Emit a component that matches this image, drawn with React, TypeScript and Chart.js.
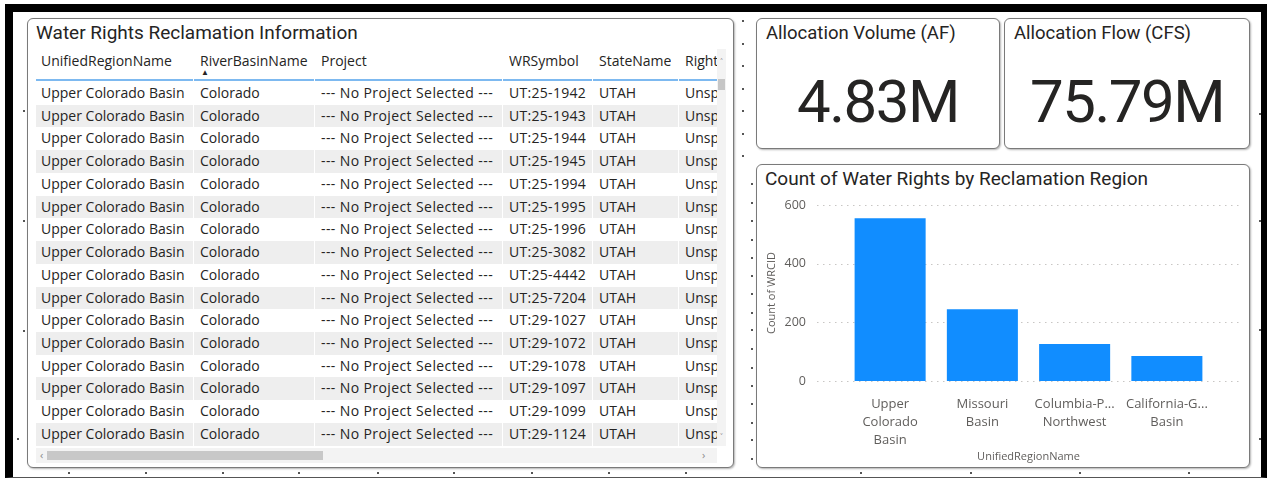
import React, { useEffect, useRef } from "react";
import { Chart, registerables } from "chart.js";

Chart.register(...registerables);

// ---------- Table data ----------
const tableHeaders = ["UnifiedRegionName", "RiverBasinName", "Project", "WRSymbol", "StateName", "Right"];
const regionNames = [
  "Upper Colorado Basin", "Upper Colorado Basin", "Upper Colorado Basin", "Upper Colorado Basin",
  "Upper Colorado Basin", "Upper Colorado Basin", "Upper Colorado Basin", "Upper Colorado Basin",
  "Upper Colorado Basin", "Upper Colorado Basin", "Upper Colorado Basin", "Upper Colorado Basin",
  "Upper Colorado Basin", "Upper Colorado Basin", "Upper Colorado Basin", "Upper Colorado Basin",
];
const riverBasins = [
  "Colorado", "Colorado", "Colorado", "Colorado", "Colorado", "Colorado", "Colorado", "Colorado",
  "Colorado", "Colorado", "Colorado", "Colorado", "Colorado", "Colorado", "Colorado", "Colorado",
];
const projects = [
  "--- No Project Selected ---", "--- No Project Selected ---", "--- No Project Selected ---", "--- No Project Selected ---",
  "--- No Project Selected ---", "--- No Project Selected ---", "--- No Project Selected ---", "--- No Project Selected ---",
  "--- No Project Selected ---", "--- No Project Selected ---", "--- No Project Selected ---", "--- No Project Selected ---",
  "--- No Project Selected ---", "--- No Project Selected ---", "--- No Project Selected ---", "--- No Project Selected ---",
];
const wrSymbols = [
  "UT:25-1942", "UT:25-1943", "UT:25-1944", "UT:25-1945", "UT:25-1994", "UT:25-1995", "UT:25-1996", "UT:25-3082",
  "UT:25-4442", "UT:25-7204", "UT:29-1027", "UT:29-1072", "UT:29-1078", "UT:29-1097", "UT:29-1099", "UT:29-1124",
];
const stateNames = [
  "UTAH", "UTAH", "UTAH", "UTAH", "UTAH", "UTAH", "UTAH", "UTAH",
  "UTAH", "UTAH", "UTAH", "UTAH", "UTAH", "UTAH", "UTAH", "UTAH",
];
const rightTypes = [
  "Unsp", "Unsp", "Unsp", "Unsp", "Unsp", "Unsp", "Unsp", "Unsp",
  "Unsp", "Unsp", "Unsp", "Unsp", "Unsp", "Unsp", "Unsp", "Unsp",
];

// ---------- KPI data ----------
const kpiTitles = ["Allocation Volume (AF)", "Allocation Flow (CFS)"];
const kpiValues = ["4.83M", "75.79M"];

// ---------- Chart data ----------
const chartTitle = "Count of Water Rights by Reclamation Region";
const categories = [
  ["Upper", "Colorado", "Basin"],
  ["Missouri", "Basin"],
  ["Columbia-P...", "Northwest"],
  ["California-G...", "Basin"],
];
const counts = [555, 245, 126, 85];
const yTickValues = [0, 200, 400, 600];
const xAxisTitle = "UnifiedRegionName";
const yAxisTitle = "Count of WRCID";

const TEXT = "#252423";
const SUB = "#605e5c";
const BODY_FONT = "'Open Sans', 'Noto Sans', sans-serif";
const TITLE_FONT = "Roboto, 'Noto Sans', sans-serif";

const colLefts = [41, 200, 321, 509, 599, 685];
const colDividers = [193, 314, 502, 592, 678];
const colSpacing = [0, 0, 0.4, 0.3, 0, 0];

const dottedGrid = {
  id: "dottedGrid",
  beforeDatasetsDraw(chart: any) {
    const { ctx, chartArea, scales } = chart;
    const y = scales.y;
    ctx.save();
    ctx.strokeStyle = "#c8c6c4";
    ctx.lineWidth = 1;
    ctx.setLineDash([1.5, 4.5]);
    y.ticks.forEach((t: any) => {
      const py = Math.round(y.getPixelForValue(t.value)) + 0.5;
      ctx.beginPath();
      ctx.moveTo(chartArea.left - 27, py);
      ctx.lineTo(chartArea.right + 30, py);
      ctx.stroke();
    });
    ctx.restore();
  },
};

function BarChart() {
  const ref = useRef<HTMLCanvasElement | null>(null);
  useEffect(() => {
    if (!ref.current) return;
    const chart = new Chart(ref.current, {
      type: "bar",
      data: {
        labels: categories as any,
        datasets: [
          {
            data: counts,
            backgroundColor: "#118DFF",
            borderWidth: 0,
            barPercentage: 0.77,
            categoryPercentage: 1,
          },
        ],
      },
      options: {
        animation: false,
        responsive: false,
        events: [],
        layout: { padding: { left: 0, right: 36, top: 15, bottom: 0 } },
        plugins: { legend: { display: false }, tooltip: { enabled: false } },
        scales: {
          x: {
            type: "category",
            offset: true,
            grid: { display: false, drawTicks: false },
            border: { display: false },
            ticks: {
              color: SUB,
              font: { family: BODY_FONT, size: 13, lineHeight: 1.35 },
              padding: 15,
              maxRotation: 0,
              minRotation: 0,
              autoSkip: false,
            },
            title: {
              display: true,
              text: xAxisTitle,
              color: SUB,
              font: { family: BODY_FONT, size: 11 },
              padding: { top: 0, bottom: 3 },
            },
            afterFit: (s: any) => {
              s.height = 85;
              s.paddingLeft = 0;
              s.paddingRight = 0;
            },
          },
          y: {
            min: 0,
            max: 600,
            afterBuildTicks: (s: any) => {
              s.ticks = yTickValues.map((v) => ({ value: v }));
            },
            ticks: {
              color: SUB,
              font: { family: BODY_FONT, size: 12.5 },
              padding: 38,
            },
            grid: { display: false, drawTicks: false },
            border: { display: false },
            title: {
              display: true,
              text: yAxisTitle,
              color: SUB,
              font: { family: BODY_FONT, size: 11 },
              padding: { top: 8, bottom: 0 },
            },
            afterFit: (s: any) => {
              s.width = 87;
              s.paddingTop = 0;
              s.paddingBottom = 0;
            },
          },
        },
      } as any,
      plugins: [dottedGrid],
    });
    return () => chart.destroy();
  }, []);
  return (
    <canvas
      ref={ref}
      width={492}
      height={276}
      style={{ position: "absolute", left: 757, top: 190, width: 492, height: 276 }}
    />
  );
}

const cardStyle = (left: number, top: number, width: number, height: number): React.CSSProperties => ({
  position: "absolute",
  left,
  top,
  width,
  height,
  boxSizing: "border-box",
  border: "1.5px solid #7a7a7a",
  borderRadius: 6,
  boxShadow: "1px 1px 2px rgba(0,0,0,0.3)",
  background: "#fff",
});

const dots: Array<[number, number]> = [
  [23, 110], [23, 220], [23, 330], [17, 438],
  [742, 20], [742, 43], [742, 65], [742, 88], [742, 110], [742, 133], [742, 155],
  [751, 183], [751, 202], [751, 220], [751, 239], [751, 257], [751, 275], [751, 293], [751, 312],
  [751, 329], [751, 348], [751, 367], [751, 385], [751, 403], [751, 422], [751, 439], [751, 458],
  [68, 472], [145, 472], [222, 472], [298, 472], [377, 472], [453, 472], [531, 472], [608, 472], [685, 472],
  [860, 472], [970, 472], [1079, 472], [1188, 472],
  [1259, 113], [1259, 220], [1259, 329], [1259, 438],
];

export default function App() {
  const rowTop0 = 82;
  const rowH = 22.73;
  return (
    <div
      style={{
        position: "absolute",
        left: 0,
        top: 0,
        width: 1267,
        height: 479,
        background: "#fff",
        overflow: "hidden",
        fontFamily: BODY_FONT,
      }}
    >
      {/* black frame */}
      <div
        style={{
          position: "absolute",
          left: 5,
          top: 4,
          width: 1262,
          height: 474,
          boxSizing: "border-box",
          borderTop: "8px solid #000",
          borderLeft: "8px solid #000",
          borderRight: "6px solid #000",
          borderBottom: "1px solid #555",
        }}
      />
      {dots.map(([x, y], i) => (
        <div key={i} style={{ position: "absolute", left: x, top: y, width: 1.5, height: 1.5, background: "#555" }} />
      ))}

      {/* Table card */}
      <div style={cardStyle(27, 18, 707, 450)} />
      <div
        style={{
          position: "absolute",
          left: 36,
          top: 20,
          fontFamily: TITLE_FONT,
          fontSize: 19,
          color: TEXT,
          lineHeight: "26px",
          whiteSpace: "nowrap",
        }}
      >
        Water Rights Reclamation Information
      </div>
      {/* header */}
      {tableHeaders.map((h, i) => (
        <div
          key={h}
          style={{
            position: "absolute",
            left: colLefts[i],
            top: 51,
            fontSize: 14,
            lineHeight: "20px",
            color: TEXT,
            whiteSpace: "nowrap",
            width: i === 5 ? 32 : undefined,
            overflow: "hidden",
          }}
        >
          {h}
        </div>
      ))}
      <div style={{ position: "absolute", left: 201, top: 68, fontSize: 8, lineHeight: "8px", color: TEXT }}>▲</div>
      <div style={{ position: "absolute", left: 36, top: 79, width: 681, height: 2, background: "#7db9f0" }} />
      {colDividers.map((x) => (
        <div key={x} style={{ position: "absolute", left: x, top: 79, width: 1, height: 2, background: "#fff" }} />
      ))}
      {/* rows */}
      {wrSymbols.map((_, r) => {
        const top = rowTop0 + r * rowH;
        const cells = [regionNames[r], riverBasins[r], projects[r], wrSymbols[r], stateNames[r], rightTypes[r]];
        return (
          <React.Fragment key={r}>
            {r % 2 === 1 && (
              <div style={{ position: "absolute", left: 36, top, width: 681, height: rowH, background: "#eeeeee" }} />
            )}
            {r % 2 === 1 &&
              colDividers.map((x) => (
                <div key={x} style={{ position: "absolute", left: x, top, width: 1, height: rowH, background: "#fff" }} />
              ))}
            {cells.map((c, i) => (
              <div
                key={i}
                style={{
                  position: "absolute",
                  left: colLefts[i],
                  top,
                  height: rowH,
                  lineHeight: `${rowH}px`,
                  fontSize: 14,
                  letterSpacing: colSpacing[i],
                  color: TEXT,
                  whiteSpace: "nowrap",
                  width: i === 5 ? 32 : undefined,
                  overflow: "hidden",
                }}
              >
                {c}
              </div>
            ))}
          </React.Fragment>
        );
      })}
      {/* vertical scrollbar */}
      <div style={{ position: "absolute", left: 717, top: 49, width: 9, height: 397, background: "#f3f3f3" }} />
      <div style={{ position: "absolute", left: 718, top: 79, width: 7, height: 11, background: "#c6c6c6" }} />
      <div style={{ position: "absolute", left: 717, top: 55, width: 9, fontSize: 9, color: "#777", textAlign: "center" }}>˄</div>
      <div style={{ position: "absolute", left: 717, top: 430, width: 9, fontSize: 9, color: "#777", textAlign: "center" }}>˅</div>
      {/* horizontal scrollbar */}
      <div style={{ position: "absolute", left: 36, top: 448, width: 681, height: 15, background: "#f3f3f3" }} />
      <div style={{ position: "absolute", left: 47, top: 451, width: 276, height: 9, background: "#c8c8c8" }} />
      <div style={{ position: "absolute", left: 40, top: 447, fontSize: 11, color: "#888" }}>‹</div>
      <div style={{ position: "absolute", left: 702, top: 447, fontSize: 11, color: "#888" }}>›</div>

      {/* KPI cards */}
      {kpiTitles.map((t, i) => {
        const left = i === 0 ? 756 : 1004;
        const width = i === 0 ? 244 : 246;
        return (
          <React.Fragment key={t}>
            <div style={cardStyle(left, 18, width, 131)} />
            <div
              style={{
                position: "absolute",
                left: left + 10,
                top: 20,
                fontFamily: TITLE_FONT,
                fontSize: 18.5,
                lineHeight: "26px",
                color: TEXT,
                whiteSpace: "nowrap",
              }}
            >
              {t}
            </div>
            <div
              style={{
                position: "absolute",
                left,
                width,
                top: 66,
                textAlign: "center",
                fontFamily: TITLE_FONT,
                fontSize: 60,
                lineHeight: "72px",
                letterSpacing: -1.5,
                color: TEXT,
                whiteSpace: "nowrap",
              }}
            >
              {kpiValues[i]}
            </div>
          </React.Fragment>
        );
      })}

      {/* Chart card */}
      <div style={cardStyle(756, 164, 494, 304)} />
      <div
        style={{
          position: "absolute",
          left: 765,
          top: 166,
          fontFamily: TITLE_FONT,
          fontSize: 19,
          lineHeight: "26px",
          color: TEXT,
          whiteSpace: "nowrap",
        }}
      >
        {chartTitle}
      </div>
      <BarChart />
    </div>
  );
}
